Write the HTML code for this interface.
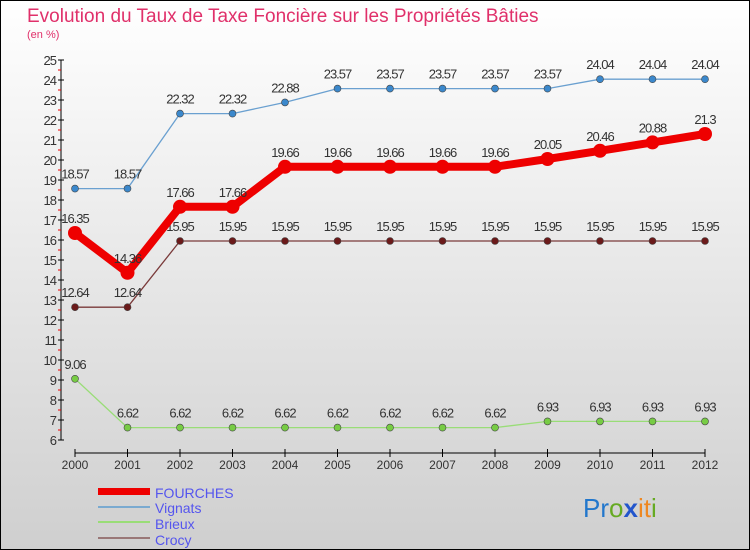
<!DOCTYPE html>
<html><head><meta charset="utf-8"><style>
body{margin:0;}
svg{display:block;font-family:"Liberation Sans",sans-serif;}
</style></head><body>
<svg id="c" width="750" height="550" xmlns="http://www.w3.org/2000/svg">
<defs><linearGradient id="bg" x1="0" y1="0" x2="0" y2="1"><stop offset="0" stop-color="#ffffff"/><stop offset="1" stop-color="#cfcfcf"/></linearGradient></defs>
<rect x="0.5" y="0.5" width="749" height="549" fill="url(#bg)" stroke="#000"/>
<text x="27" y="22" font-size="19" fill="#e0306a">Evolution du Taux de Taxe Foncière sur les Propriétés Bâties</text>
<text x="27" y="38" font-size="11" fill="#e0306a">(en %)</text>
<g id="axes"></g>
<g id="series"></g>
<g id="legend">
<rect x="98" y="488" width="52" height="7" fill="#ee0000"/>
<text x="155" y="498" font-size="14" fill="#5555ee">FOURCHES</text>
<line x1="98" y1="507" x2="150" y2="507" stroke="#7aaad0" stroke-width="2"/>
<text x="155" y="513" font-size="14" fill="#5555ee">Vignats</text>
<line x1="98" y1="522" x2="150" y2="522" stroke="#99dd77" stroke-width="2"/>
<text x="155" y="529" font-size="14" fill="#5555ee">Brieux</text>
<line x1="98" y1="538" x2="150" y2="538" stroke="#997777" stroke-width="2"/>
<text x="155" y="545" font-size="14" fill="#5555ee">Crocy</text>
</g>
<g font-size="26">
<text x="583" y="517"><tspan fill="#2277cc">Pr</tspan><tspan fill="#66aa22">o</tspan><tspan fill="#2255cc" font-weight="bold">x</tspan><tspan fill="#ee8822">it</tspan><tspan fill="#66aa22">i</tspan></text>
</g>
</svg>
<script>
const years=[2000,2001,2002,2003,2004,2005,2006,2007,2008,2009,2010,2011,2012];
const fourches=[16.35,14.36,17.66,17.66,19.66,19.66,19.66,19.66,19.66,20.05,20.46,20.88,21.3];
const vignats=[18.57,18.57,22.32,22.32,22.88,23.57,23.57,23.57,23.57,23.57,24.04,24.04,24.04];
const brieux=[9.06,6.62,6.62,6.62,6.62,6.62,6.62,6.62,6.62,6.93,6.93,6.93,6.93];
const crocy=[12.64,12.64,15.95,15.95,15.95,15.95,15.95,15.95,15.95,15.95,15.95,15.95,15.95];
const yTicks=[6,7,8,9,10,11,12,13,14,15,16,17,18,19,20,21,22,23,24,25];
const NS="http://www.w3.org/2000/svg";
const xS=i=>75+i*52.5;
const yS=v=>440-(v-6)*20;
function mk(tag,attrs,parent){const e=document.createElementNS(NS,tag);for(const k in attrs)e.setAttribute(k,attrs[k]);parent.appendChild(e);return e;}
const ax=document.getElementById('axes');
let l=mk('line',{x1:61,y1:yS(25),x2:61,y2:yS(6),stroke:'#000'},ax);


l=mk('line',{x1:xS(0),y1:453,x2:xS(12),y2:453,stroke:'#000'},ax);


yTicks.forEach(v=>{
  mk('line',{x1:58,y1:yS(v),x2:64,y2:yS(v),stroke:'#000'},ax);
  if(v<25) mk('line',{x1:58,y1:yS(v+0.5),x2:61,y2:yS(v+0.5),stroke:'#e00'},ax);
  const t=mk('text',{x:56,y:yS(v)+5,'font-size':13,fill:'#333','text-anchor':'end','letter-spacing':'-1'},ax);
  t.textContent=v;
  
  
});
years.forEach((y,i)=>{
  mk('line',{x1:xS(i),y1:449,x2:xS(i),y2:457,stroke:'#000'},ax);
  const t=mk('text',{x:xS(i),y:469,'font-size':12,fill:'#333','text-anchor':'middle'},ax);
  t.textContent=y;
  
  
});
const sg=document.getElementById('series');
function draw(name,vals,color,dot,w,r){
  const g=mk('g',{},sg);
  
  
  mk('polyline',{points:vals.map((v,i)=>xS(i)+','+yS(v)).join(' '),fill:'none',stroke:color,'stroke-width':w,'stroke-linejoin':'round'},g);
  vals.forEach((v,i)=>{
    const c=mk('circle',{cx:xS(i),cy:yS(v),r:r,fill:dot,stroke:'#444','stroke-width':name==='fourches'?0:0.6},g);
    
    
    const t=mk('text',{x:xS(i),y:yS(v)-10,'font-size':13,fill:'#333','text-anchor':'middle','letter-spacing':'-1'},g);
    t.textContent=v;
    
    
  });
}
draw('crocy',crocy,'#7a3a3a','#6b1a1a',1.3,3.5);
draw('brieux',brieux,'#99dd77','#77cc44',1.3,3.5);
draw('vignats',vignats,'#6aa0d0','#3b88cc',1.3,3.5);
draw('fourches',fourches,'#ee0000','#ee0000',8,7);
</script>
</body></html>
